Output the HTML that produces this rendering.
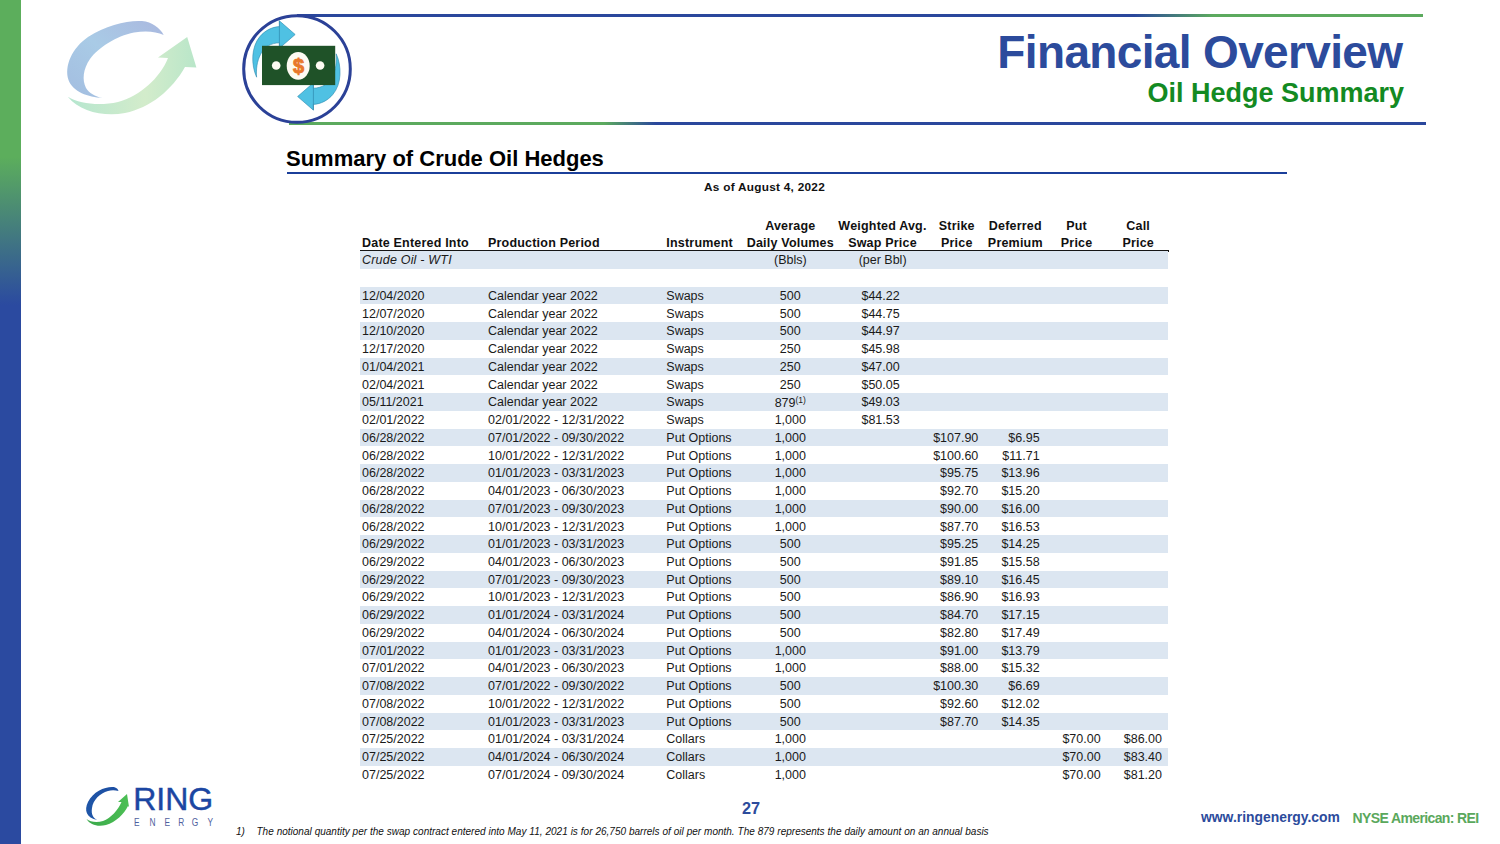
<!DOCTYPE html>
<html><head><meta charset="utf-8">
<style>
html,body{margin:0;padding:0;}
body{width:1500px;height:844px;position:relative;overflow:hidden;background:#fff;font-family:"Liberation Sans",sans-serif;}
.abs{position:absolute;}
.sh{position:absolute;left:359.6px;width:808.40px;height:17.746px;background:#dce6f1;}
.t{position:absolute;font-size:12.5px;line-height:17.746px;height:17.746px;white-space:nowrap;color:#1a1a1a;}
.t.c{width:120px;text-align:center;}
.t.r{text-align:right;}
.t.b{font-weight:bold;color:#111;letter-spacing:0.2px;}
.t.i{font-style:italic;letter-spacing:0.2px;}
sup{font-size:8.5px;vertical-align:0;position:relative;top:-4.5px;line-height:0;}
</style></head><body>
<!-- left bar -->
<div class="abs" style="left:0;top:0;width:20.5px;height:844px;background:linear-gradient(to bottom,#5cae5c 0px,#5cae5c 157px,#2b4aa0 305px,#2b4aa0 844px);"></div>

<!-- header lines -->
<div class="abs" style="left:297px;top:14px;width:1126px;height:3px;background:linear-gradient(to right,#2a479c 0px,#2a479c 837px,#5caa5e 916px,#5caa5e 1126px);"></div>
<div class="abs" style="left:289px;top:122px;width:1137px;height:3px;background:linear-gradient(to right,#5caa5e 0px,#5caa5e 315px,#2a479c 367px,#2a479c 1137px);"></div>

<!-- faded swirl logo top-left -->
<svg class="abs" style="left:0;top:0" width="240" height="140" viewBox="0 0 240 140">
 <defs>
  <linearGradient id="gb" x1="0" y1="1" x2="1" y2="0">
   <stop offset="0" stop-color="#a3bde0"/><stop offset="0.5" stop-color="#a9cbe6"/><stop offset="1" stop-color="#aab8df"/>
  </linearGradient>
  <linearGradient id="gg" x1="0" y1="0" x2="1" y2="0">
   <stop offset="0" stop-color="#b5e6cf"/><stop offset="0.6" stop-color="#d3eccb"/><stop offset="1" stop-color="#b9e6c9"/>
  </linearGradient>
 </defs>
 <path d="M102.6,98.1 C88,97 73,92 68.5,80 C64,66 72,48 88,37 C106,25 128,20 142,21 C152,22 160,28 163.7,34.9 C156,31.5 146,30.5 134,32.5 C116,36 98,48 90,59 C83,69 82,80 86,88 C89,93 95,96.5 102.6,98.1 Z" fill="url(#gb)"/>
 <path d="M67.8,96.7 C80,112 105,117 125,113 C150,108 172,90 185,67 L196.4,67.6 L187.2,37 L158,57.6 L168,58 C160,78 140,96 118,102 C100,106 80,104 67.8,96.7 Z" fill="url(#gg)"/>
</svg>

<!-- circle icon -->
<svg class="abs" style="left:230px;top:0" width="140" height="140" viewBox="230 0 140 140">
 <circle cx="297" cy="69" r="53.3" fill="#fff" stroke="#2b4197" stroke-width="3"/>
 <g id="arr">
 <path d="M256.6,77.2 C251,65 251,47 259.9,36.6 C265,30.5 272,27 279.4,26.6 L279.4,20.8 L295.2,34.5 L279.4,48.2 L279.4,42.8 C271,43 264,47 260.5,54.5 C257,61 256,69 256.6,77.2 Z" fill="#4fc1e3" stroke="#2f8aae" stroke-width="0.6" stroke-linejoin="miter"/>
 <line x1="279.4" y1="21" x2="279.4" y2="48" stroke="#2f8aae" stroke-width="0.7"/>
 </g>
 <use href="#arr" transform="rotate(180 296.4 65.5)"/>
 <rect x="262" y="45.8" width="73.2" height="39.3" fill="#1f5228"/>
 <ellipse cx="298.2" cy="65.8" rx="11.5" ry="13.9" fill="#fdfbf2"/>
 <circle cx="276.2" cy="65.5" r="4.3" fill="#fdfbf2"/>
 <circle cx="320.1" cy="65.5" r="4.3" fill="#fdfbf2"/>
 <text x="298.5" y="72.6" font-family="Liberation Sans" font-weight="bold" font-size="20" fill="#e8782b" stroke="#e8782b" stroke-width="0.9" text-anchor="middle">$</text>
</svg>

<!-- titles -->
<div class="abs" id="t1" style="right:97.6px;top:23.6px;font-size:46px;font-weight:bold;color:#2c4b9c;white-space:nowrap;line-height:56px;letter-spacing:-0.65px;">Financial Overview</div>
<div class="abs" id="t2" style="right:96px;top:77.8px;font-size:27px;font-weight:bold;color:#138a22;white-space:nowrap;line-height:30px;letter-spacing:0px;">Oil Hedge Summary</div>

<!-- section title -->
<div class="abs" id="st" style="left:286px;top:146px;font-size:22px;font-weight:bold;color:#000;white-space:nowrap;line-height:26px;">Summary of Crude Oil Hedges</div>
<div class="abs" style="left:287px;top:171.5px;width:1000px;height:2.2px;background:#1b3f9a;"></div>
<div class="abs" id="asof" style="left:704px;top:180.4px;font-size:11.8px;letter-spacing:0.27px;font-weight:bold;color:#111;white-space:nowrap;line-height:14px;">As of August 4, 2022</div>

<!-- table header rule -->
<div class="abs" style="left:359.6px;top:250px;width:809.40px;height:2px;background:#151515;"></div>

<div class="sh" style="top:286.60px"></div>
<div class="sh" style="top:322.09px"></div>
<div class="sh" style="top:357.58px"></div>
<div class="sh" style="top:393.08px"></div>
<div class="sh" style="top:428.57px"></div>
<div class="sh" style="top:464.06px"></div>
<div class="sh" style="top:499.55px"></div>
<div class="sh" style="top:535.04px"></div>
<div class="sh" style="top:570.54px"></div>
<div class="sh" style="top:606.03px"></div>
<div class="sh" style="top:641.52px"></div>
<div class="sh" style="top:677.01px"></div>
<div class="sh" style="top:712.50px"></div>
<div class="sh" style="top:748.00px"></div>
<div class="sh" style="top:251.11px"></div>
<div class="t" style="left:362.00px;top:287.80px">12/04/2020</div>
<div class="t" style="left:488.00px;top:287.80px">Calendar year 2022</div>
<div class="t" style="left:666.30px;top:287.80px">Swaps</div>
<div class="t c" style="left:730.30px;top:287.80px">500</div>
<div class="t c" style="left:820.60px;top:287.80px">$44.22</div>
<div class="t" style="left:362.00px;top:305.55px">12/07/2020</div>
<div class="t" style="left:488.00px;top:305.55px">Calendar year 2022</div>
<div class="t" style="left:666.30px;top:305.55px">Swaps</div>
<div class="t c" style="left:730.30px;top:305.55px">500</div>
<div class="t c" style="left:820.60px;top:305.55px">$44.75</div>
<div class="t" style="left:362.00px;top:323.29px">12/10/2020</div>
<div class="t" style="left:488.00px;top:323.29px">Calendar year 2022</div>
<div class="t" style="left:666.30px;top:323.29px">Swaps</div>
<div class="t c" style="left:730.30px;top:323.29px">500</div>
<div class="t c" style="left:820.60px;top:323.29px">$44.97</div>
<div class="t" style="left:362.00px;top:341.04px">12/17/2020</div>
<div class="t" style="left:488.00px;top:341.04px">Calendar year 2022</div>
<div class="t" style="left:666.30px;top:341.04px">Swaps</div>
<div class="t c" style="left:730.30px;top:341.04px">250</div>
<div class="t c" style="left:820.60px;top:341.04px">$45.98</div>
<div class="t" style="left:362.00px;top:358.78px">01/04/2021</div>
<div class="t" style="left:488.00px;top:358.78px">Calendar year 2022</div>
<div class="t" style="left:666.30px;top:358.78px">Swaps</div>
<div class="t c" style="left:730.30px;top:358.78px">250</div>
<div class="t c" style="left:820.60px;top:358.78px">$47.00</div>
<div class="t" style="left:362.00px;top:376.53px">02/04/2021</div>
<div class="t" style="left:488.00px;top:376.53px">Calendar year 2022</div>
<div class="t" style="left:666.30px;top:376.53px">Swaps</div>
<div class="t c" style="left:730.30px;top:376.53px">250</div>
<div class="t c" style="left:820.60px;top:376.53px">$50.05</div>
<div class="t" style="left:362.00px;top:394.28px">05/11/2021</div>
<div class="t" style="left:488.00px;top:394.28px">Calendar year 2022</div>
<div class="t" style="left:666.30px;top:394.28px">Swaps</div>
<div class="t c" style="left:730.30px;top:394.28px"><span style="position:relative;top:1.2px">879<sup>(1)</sup></span></div>
<div class="t c" style="left:820.60px;top:394.28px">$49.03</div>
<div class="t" style="left:362.00px;top:412.02px">02/01/2022</div>
<div class="t" style="left:488.00px;top:412.02px">02/01/2022 - 12/31/2022</div>
<div class="t" style="left:666.30px;top:412.02px">Swaps</div>
<div class="t c" style="left:730.30px;top:412.02px">1,000</div>
<div class="t c" style="left:820.60px;top:412.02px">$81.53</div>
<div class="t" style="left:362.00px;top:429.77px">06/28/2022</div>
<div class="t" style="left:488.00px;top:429.77px">07/01/2022 - 09/30/2022</div>
<div class="t" style="left:666.30px;top:429.77px">Put Options</div>
<div class="t c" style="left:730.30px;top:429.77px">1,000</div>
<div class="t r" style="right:521.70px;top:429.77px">$107.90</div>
<div class="t r" style="right:460.40px;top:429.77px">$6.95</div>
<div class="t" style="left:362.00px;top:447.51px">06/28/2022</div>
<div class="t" style="left:488.00px;top:447.51px">10/01/2022 - 12/31/2022</div>
<div class="t" style="left:666.30px;top:447.51px">Put Options</div>
<div class="t c" style="left:730.30px;top:447.51px">1,000</div>
<div class="t r" style="right:521.70px;top:447.51px">$100.60</div>
<div class="t r" style="right:460.40px;top:447.51px">$11.71</div>
<div class="t" style="left:362.00px;top:465.26px">06/28/2022</div>
<div class="t" style="left:488.00px;top:465.26px">01/01/2023 - 03/31/2023</div>
<div class="t" style="left:666.30px;top:465.26px">Put Options</div>
<div class="t c" style="left:730.30px;top:465.26px">1,000</div>
<div class="t r" style="right:521.70px;top:465.26px">$95.75</div>
<div class="t r" style="right:460.40px;top:465.26px">$13.96</div>
<div class="t" style="left:362.00px;top:483.01px">06/28/2022</div>
<div class="t" style="left:488.00px;top:483.01px">04/01/2023 - 06/30/2023</div>
<div class="t" style="left:666.30px;top:483.01px">Put Options</div>
<div class="t c" style="left:730.30px;top:483.01px">1,000</div>
<div class="t r" style="right:521.70px;top:483.01px">$92.70</div>
<div class="t r" style="right:460.40px;top:483.01px">$15.20</div>
<div class="t" style="left:362.00px;top:500.75px">06/28/2022</div>
<div class="t" style="left:488.00px;top:500.75px">07/01/2023 - 09/30/2023</div>
<div class="t" style="left:666.30px;top:500.75px">Put Options</div>
<div class="t c" style="left:730.30px;top:500.75px">1,000</div>
<div class="t r" style="right:521.70px;top:500.75px">$90.00</div>
<div class="t r" style="right:460.40px;top:500.75px">$16.00</div>
<div class="t" style="left:362.00px;top:518.50px">06/28/2022</div>
<div class="t" style="left:488.00px;top:518.50px">10/01/2023 - 12/31/2023</div>
<div class="t" style="left:666.30px;top:518.50px">Put Options</div>
<div class="t c" style="left:730.30px;top:518.50px">1,000</div>
<div class="t r" style="right:521.70px;top:518.50px">$87.70</div>
<div class="t r" style="right:460.40px;top:518.50px">$16.53</div>
<div class="t" style="left:362.00px;top:536.24px">06/29/2022</div>
<div class="t" style="left:488.00px;top:536.24px">01/01/2023 - 03/31/2023</div>
<div class="t" style="left:666.30px;top:536.24px">Put Options</div>
<div class="t c" style="left:730.30px;top:536.24px">500</div>
<div class="t r" style="right:521.70px;top:536.24px">$95.25</div>
<div class="t r" style="right:460.40px;top:536.24px">$14.25</div>
<div class="t" style="left:362.00px;top:553.99px">06/29/2022</div>
<div class="t" style="left:488.00px;top:553.99px">04/01/2023 - 06/30/2023</div>
<div class="t" style="left:666.30px;top:553.99px">Put Options</div>
<div class="t c" style="left:730.30px;top:553.99px">500</div>
<div class="t r" style="right:521.70px;top:553.99px">$91.85</div>
<div class="t r" style="right:460.40px;top:553.99px">$15.58</div>
<div class="t" style="left:362.00px;top:571.74px">06/29/2022</div>
<div class="t" style="left:488.00px;top:571.74px">07/01/2023 - 09/30/2023</div>
<div class="t" style="left:666.30px;top:571.74px">Put Options</div>
<div class="t c" style="left:730.30px;top:571.74px">500</div>
<div class="t r" style="right:521.70px;top:571.74px">$89.10</div>
<div class="t r" style="right:460.40px;top:571.74px">$16.45</div>
<div class="t" style="left:362.00px;top:589.48px">06/29/2022</div>
<div class="t" style="left:488.00px;top:589.48px">10/01/2023 - 12/31/2023</div>
<div class="t" style="left:666.30px;top:589.48px">Put Options</div>
<div class="t c" style="left:730.30px;top:589.48px">500</div>
<div class="t r" style="right:521.70px;top:589.48px">$86.90</div>
<div class="t r" style="right:460.40px;top:589.48px">$16.93</div>
<div class="t" style="left:362.00px;top:607.23px">06/29/2022</div>
<div class="t" style="left:488.00px;top:607.23px">01/01/2024 - 03/31/2024</div>
<div class="t" style="left:666.30px;top:607.23px">Put Options</div>
<div class="t c" style="left:730.30px;top:607.23px">500</div>
<div class="t r" style="right:521.70px;top:607.23px">$84.70</div>
<div class="t r" style="right:460.40px;top:607.23px">$17.15</div>
<div class="t" style="left:362.00px;top:624.97px">06/29/2022</div>
<div class="t" style="left:488.00px;top:624.97px">04/01/2024 - 06/30/2024</div>
<div class="t" style="left:666.30px;top:624.97px">Put Options</div>
<div class="t c" style="left:730.30px;top:624.97px">500</div>
<div class="t r" style="right:521.70px;top:624.97px">$82.80</div>
<div class="t r" style="right:460.40px;top:624.97px">$17.49</div>
<div class="t" style="left:362.00px;top:642.72px">07/01/2022</div>
<div class="t" style="left:488.00px;top:642.72px">01/01/2023 - 03/31/2023</div>
<div class="t" style="left:666.30px;top:642.72px">Put Options</div>
<div class="t c" style="left:730.30px;top:642.72px">1,000</div>
<div class="t r" style="right:521.70px;top:642.72px">$91.00</div>
<div class="t r" style="right:460.40px;top:642.72px">$13.79</div>
<div class="t" style="left:362.00px;top:660.47px">07/01/2022</div>
<div class="t" style="left:488.00px;top:660.47px">04/01/2023 - 06/30/2023</div>
<div class="t" style="left:666.30px;top:660.47px">Put Options</div>
<div class="t c" style="left:730.30px;top:660.47px">1,000</div>
<div class="t r" style="right:521.70px;top:660.47px">$88.00</div>
<div class="t r" style="right:460.40px;top:660.47px">$15.32</div>
<div class="t" style="left:362.00px;top:678.21px">07/08/2022</div>
<div class="t" style="left:488.00px;top:678.21px">07/01/2022 - 09/30/2022</div>
<div class="t" style="left:666.30px;top:678.21px">Put Options</div>
<div class="t c" style="left:730.30px;top:678.21px">500</div>
<div class="t r" style="right:521.70px;top:678.21px">$100.30</div>
<div class="t r" style="right:460.40px;top:678.21px">$6.69</div>
<div class="t" style="left:362.00px;top:695.96px">07/08/2022</div>
<div class="t" style="left:488.00px;top:695.96px">10/01/2022 - 12/31/2022</div>
<div class="t" style="left:666.30px;top:695.96px">Put Options</div>
<div class="t c" style="left:730.30px;top:695.96px">500</div>
<div class="t r" style="right:521.70px;top:695.96px">$92.60</div>
<div class="t r" style="right:460.40px;top:695.96px">$12.02</div>
<div class="t" style="left:362.00px;top:713.70px">07/08/2022</div>
<div class="t" style="left:488.00px;top:713.70px">01/01/2023 - 03/31/2023</div>
<div class="t" style="left:666.30px;top:713.70px">Put Options</div>
<div class="t c" style="left:730.30px;top:713.70px">500</div>
<div class="t r" style="right:521.70px;top:713.70px">$87.70</div>
<div class="t r" style="right:460.40px;top:713.70px">$14.35</div>
<div class="t" style="left:362.00px;top:731.45px">07/25/2022</div>
<div class="t" style="left:488.00px;top:731.45px">01/01/2024 - 03/31/2024</div>
<div class="t" style="left:666.30px;top:731.45px">Collars</div>
<div class="t c" style="left:730.30px;top:731.45px">1,000</div>
<div class="t r" style="right:399.40px;top:731.45px">$70.00</div>
<div class="t r" style="right:338.00px;top:731.45px">$86.00</div>
<div class="t" style="left:362.00px;top:749.20px">07/25/2022</div>
<div class="t" style="left:488.00px;top:749.20px">04/01/2024 - 06/30/2024</div>
<div class="t" style="left:666.30px;top:749.20px">Collars</div>
<div class="t c" style="left:730.30px;top:749.20px">1,000</div>
<div class="t r" style="right:399.40px;top:749.20px">$70.00</div>
<div class="t r" style="right:338.00px;top:749.20px">$83.40</div>
<div class="t" style="left:362.00px;top:766.94px">07/25/2022</div>
<div class="t" style="left:488.00px;top:766.94px">07/01/2024 - 09/30/2024</div>
<div class="t" style="left:666.30px;top:766.94px">Collars</div>
<div class="t c" style="left:730.30px;top:766.94px">1,000</div>
<div class="t r" style="right:399.40px;top:766.94px">$70.00</div>
<div class="t r" style="right:338.00px;top:766.94px">$81.20</div>
<div class="t i" style="left:362.00px;top:252.31px">Crude Oil - WTI</div>
<div class="t c" style="left:730.30px;top:252.31px">(Bbls)</div>
<div class="t c" style="left:822.60px;top:252.31px">(per Bbl)</div>
<div class="t b" style="left:362.00px;top:235.26px">Date Entered Into</div>
<div class="t b" style="left:488.00px;top:235.26px">Production Period</div>
<div class="t b" style="left:666.30px;top:235.26px">Instrument</div>
<div class="t b c" style="left:730.30px;top:217.66px">Average</div>
<div class="t b c" style="left:730.30px;top:235.26px">Daily Volumes</div>
<div class="t b c" style="left:822.50px;top:217.66px">Weighted Avg.</div>
<div class="t b c" style="left:822.50px;top:235.26px">Swap Price</div>
<div class="t b c" style="left:896.80px;top:217.66px">Strike</div>
<div class="t b c" style="left:896.80px;top:235.26px">Price</div>
<div class="t b c" style="left:955.30px;top:217.66px">Deferred</div>
<div class="t b c" style="left:955.30px;top:235.26px">Premium</div>
<div class="t b c" style="left:1016.60px;top:217.66px">Put</div>
<div class="t b c" style="left:1016.60px;top:235.26px">Price</div>
<div class="t b c" style="left:1078.20px;top:217.66px">Call</div>
<div class="t b c" style="left:1078.20px;top:235.26px">Price</div>

<!-- footer -->
<svg class="abs" style="left:80px;top:780px" width="140" height="50" viewBox="80 780 140 50">
 <defs>
  <linearGradient id="rb" x1="0" y1="1" x2="1" y2="0"><stop offset="0" stop-color="#1f57a8"/><stop offset="1" stop-color="#1d4fa3"/></linearGradient>
  <linearGradient id="rg" x1="0" y1="0" x2="1" y2="0"><stop offset="0" stop-color="#3aa84a"/><stop offset="1" stop-color="#4cbf54"/></linearGradient>
 </defs>
 <path d="M97.5,820 C86,818 84,810 88,802 C93,792 104,787 112,787 C116,787 118,789 118.5,791 C115,790 111,790 108,791 C100,793 93,800 92,808 C91,814 93,818 97.5,820 Z" fill="url(#rb)"/>
 <path d="M86.5,819 C90,825 98,827 106,825 C116,822 124,814 128,806 L129,807 L127,794 L118,802 L121.5,802 C118,810 111,818 103,821 C97,823 90,822 86.5,819 Z" fill="url(#rg)"/>
 <text x="133.2" y="809.7" font-family="Liberation Sans" font-size="30.5" fill="#1b46a2" stroke="#1b46a2" stroke-width="0.45" textLength="80" lengthAdjust="spacingAndGlyphs">RING</text>
 <text transform="translate(134.1,825.7) scale(0.72,1)" font-family="Liberation Sans" font-size="11.6" fill="#4f5f9e">E</text><text transform="translate(149.5,825.7) scale(0.72,1)" font-family="Liberation Sans" font-size="11.6" fill="#4f5f9e">N</text><text transform="translate(164.5,825.7) scale(0.72,1)" font-family="Liberation Sans" font-size="11.6" fill="#4f5f9e">E</text><text transform="translate(178.2,825.7) scale(0.72,1)" font-family="Liberation Sans" font-size="11.6" fill="#4f5f9e">R</text><text transform="translate(191.8,825.7) scale(0.72,1)" font-family="Liberation Sans" font-size="11.6" fill="#4f5f9e">G</text><text transform="translate(207.6,825.7) scale(0.72,1)" font-family="Liberation Sans" font-size="11.6" fill="#4f5f9e">Y</text>
</svg>
<div class="abs" id="pg" style="left:742px;top:799px;font-size:16.3px;font-weight:bold;color:#2c4b9c;line-height:18px;">27</div>
<div class="abs" id="fn" style="left:236px;top:826px;font-size:10px;word-spacing:0.16px;font-style:italic;color:#111;white-space:nowrap;line-height:12px;">1)<span style="display:inline-block;width:11.6px"></span>The notional quantity per the swap contract entered into May 11, 2021 is for 26,750 barrels of oil per month. The 879 represents the daily amount on an annual basis</div>
<div class="abs" id="www" style="left:1201px;top:808.6px;font-size:13.9px;font-weight:bold;color:#2c4b9c;white-space:nowrap;line-height:16px;">www.ringenergy.com</div>
<div class="abs" id="nyse" style="left:1352.5px;top:810.2px;font-size:14px;letter-spacing:-0.62px;font-weight:bold;color:#5aa85c;white-space:nowrap;line-height:16px;">NYSE American: REI</div>
</body></html>
